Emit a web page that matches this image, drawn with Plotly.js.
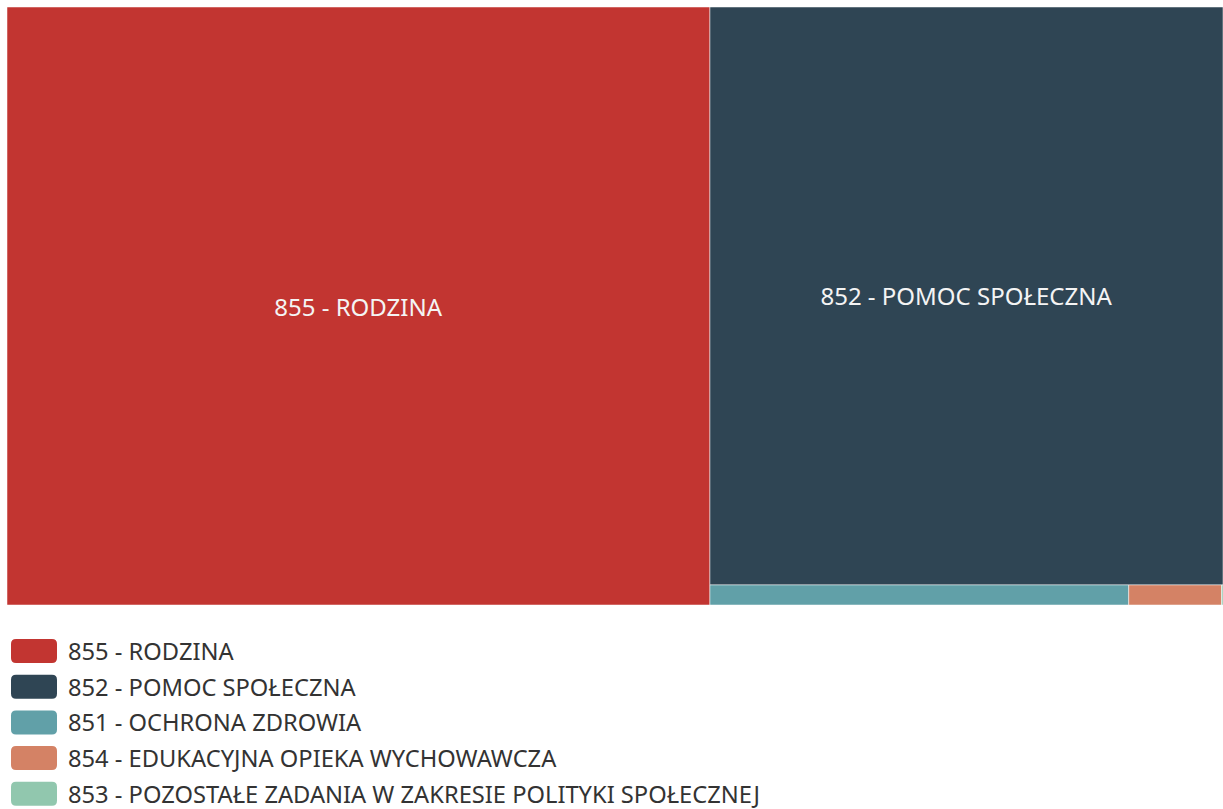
<!DOCTYPE html>
<html>
<head>
<meta charset="utf-8">
<script src="https://cdn.plot.ly/plotly-3.0.1.min.js"></script>
<style>html,body{margin:0;padding:0;background:#fff;}#chart{width:1223px;height:809px;}</style>
</head>
<body>
<div id="chart"></div>
<script>
const labels = ["855 - RODZINA", "852 - POMOC SPOŁECZNA", "851 - OCHRONA ZDROWIA", "854 - EDUKACYJNA OPIEKA WYCHOWAWCZA", "853 - POZOSTAŁE ZADANIA W ZAKRESIE POLITYKI SPOŁECZNEJ"];
const values = [57.81, 40.78, 1.155, 0.256, 0.004];
const colors = ["#c23531", "#2f4554", "#61a0a8", "#d48265", "#91c7ae"];
const parents = labels.map(() => "");

const W = 1223, H = 809;
const trace = {
  type: "treemap",
  labels: labels,
  parents: parents,
  values: values,
  sort: true,
  textinfo: "label",
  textposition: "middle center",
  textfont: {family: "Noto Sans, Open Sans, sans-serif", size: 24, color: "#f4f4f4"},
  marker: {colors: colors, line: {width: 0.5, color: "#ffffff"}, pad: {t: 0, l: 0, r: 0, b: 0}},
  tiling: {packing: "squarify", pad: 0},
  pathbar: {visible: false},
  hoverinfo: "label+value",
  domain: {x: [7 / W, 1], y: [(H - 605) / H, (H - 7) / H]}
};

const shapes = [];
const annotations = [];
const rowY0 = 651, rowStep = 35.7;
labels.forEach((lab, i) => {
  const cy = rowY0 + i * rowStep;
  const x0 = 11, x1 = 57, y0 = cy - 12, y1 = cy + 12, r = 5;
  const X = v => v / W, Y = v => 1 - v / H;
  const path = `M ${X(x0 + r)} ${Y(y0)} L ${X(x1 - r)} ${Y(y0)} Q ${X(x1)} ${Y(y0)} ${X(x1)} ${Y(y0 + r)} L ${X(x1)} ${Y(y1 - r)} Q ${X(x1)} ${Y(y1)} ${X(x1 - r)} ${Y(y1)} L ${X(x0 + r)} ${Y(y1)} Q ${X(x0)} ${Y(y1)} ${X(x0)} ${Y(y1 - r)} L ${X(x0)} ${Y(y0 + r)} Q ${X(x0)} ${Y(y0)} ${X(x0 + r)} ${Y(y0)} Z`;
  shapes.push({type: "path", xref: "paper", yref: "paper", path: path, fillcolor: colors[i], line: {width: 0}});
  annotations.push({
    xref: "paper", yref: "paper", x: 66 / W, y: 1 - cy / H, xanchor: "left", yanchor: "middle",
    text: lab, showarrow: false, font: {family: "Noto Sans, Open Sans, sans-serif", size: 23.7, color: "#333333"}
  });
});

const layout = {
  width: W, height: H,
  margin: {l: 0, r: 0, t: 0, b: 0},
  paper_bgcolor: "#ffffff",
  uniformtext: {minsize: 18, mode: "hide"},
  shapes: shapes,
  annotations: annotations,
  showlegend: false
};

Plotly.newPlot("chart", [trace], layout, {displayModeBar: false, staticPlot: true});
</script>
</body>
</html>
